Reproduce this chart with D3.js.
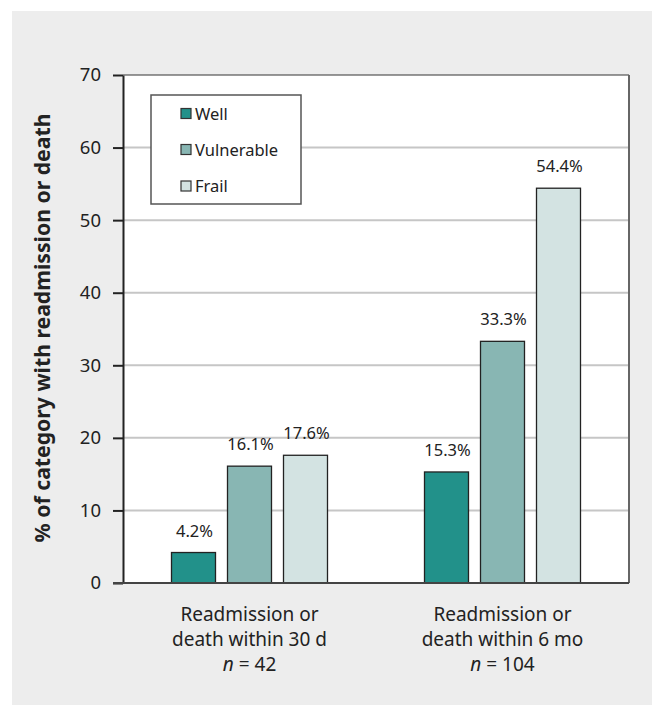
<!DOCTYPE html>
<html>
<head>
<meta charset="utf-8">
<script src="https://cdn.jsdelivr.net/npm/d3@7"></script>
<style>
  html, body { margin: 0; padding: 0; background: #ffffff; }
  svg { display: block; }
  text { font-family: "Source Sans Pro", "Noto Sans", sans-serif; fill: #222; }
</style>
</head>
<body>
<svg id="chart" width="652" height="705"></svg>
<script>
// Outcome groups (multi-line labels) and frailty categories
const groups = ["30d", "6mo"];
const groupLines = [
  ["Readmission or", "death within 30 d", "n = 42"],
  ["Readmission or", "death within 6 mo", "n = 104"]
];
const frailty = ["Well", "Vulnerable", "Frail"];
const colors = ["#22918a", "#88b6b3", "#d3e3e2"];

// Percent of each category with readmission or death
const values30d = [4.2, 16.1, 17.6];
const values6mo = [15.3, 33.3, 54.4];
const yTicks = [0, 10, 20, 30, 40, 50, 60, 70];

const series = [values30d, values6mo];
const FONT = "\"Source Sans Pro\", \"Noto Sans\", sans-serif";

const svg = d3.select("#chart");

// Panel background
svg.append("rect")
  .attr("x", 12).attr("y", 11)
  .attr("width", 652 - 12).attr("height", 705 - 11)
  .attr("fill", "#ededed");

const plot = { left: 123, right: 629, top: 75, bottom: 583 };

svg.append("rect")
  .attr("x", plot.left).attr("y", plot.top)
  .attr("width", plot.right - plot.left).attr("height", plot.bottom - plot.top)
  .attr("fill", "#ffffff");

const x0 = d3.scaleBand().domain(groups).range([plot.left, plot.right]);
const x1 = d3.scaleBand().domain(frailty).range([0, 156]).paddingInner(12 / 56);
const y = d3.scaleLinear().domain([0, 70]).range([plot.bottom, plot.top]);

// Horizontal gridlines
svg.append("g")
  .selectAll("line")
  .data(yTicks.filter(t => t > 0 && t < 70))
  .join("line")
  .attr("x1", plot.left).attr("x2", plot.right)
  .attr("y1", d => y(d)).attr("y2", d => y(d))
  .attr("stroke", "#c6c6c6")
  .attr("stroke-width", 2);

// Top and right frame
svg.append("line")
  .attr("x1", plot.left).attr("x2", plot.right)
  .attr("y1", plot.top).attr("y2", plot.top)
  .attr("stroke", "#333").attr("stroke-width", 1);
svg.append("line")
  .attr("x1", plot.right).attr("x2", plot.right)
  .attr("y1", plot.top).attr("y2", plot.bottom)
  .attr("stroke", "#666").attr("stroke-width", 2);

// Y axis
const yAxis = svg.append("g")
  .attr("transform", `translate(${plot.left},0)`)
  .call(d3.axisLeft(y).tickValues(yTicks).tickSize(10).tickPadding(12).tickSizeOuter(0));
yAxis.select(".domain").attr("stroke", "#222").attr("stroke-width", 2);
yAxis.selectAll(".tick line").attr("stroke", "#222").attr("stroke-width", 2);
yAxis.selectAll(".tick text")
  .attr("font-size", 18.5)
  .attr("fill", "#222")
  .style("font-family", FONT);

// Legend box over the gridlines
const legend = svg.append("g");
legend.append("rect")
  .attr("x", 151).attr("y", 95)
  .attr("width", 150).attr("height", 109)
  .attr("fill", "#ffffff")
  .attr("stroke", "#555").attr("stroke-width", 1.5);
const legendY = [113.5, 149.5, 186];
frailty.forEach((name, i) => {
  legend.append("rect")
    .attr("x", 181).attr("y", legendY[i] - 5)
    .attr("width", 10).attr("height", 10)
    .attr("fill", colors[i])
    .attr("stroke", "#333").attr("stroke-width", 1.2);
  legend.append("text")
    .attr("x", 195).attr("y", legendY[i] + 6)
    .attr("font-size", 16.5)
    .text(name);
});

// Bars and value labels
groups.forEach((g, gi) => {
  const gx = x0(g) + (x0.bandwidth() - 156) / 2;
  const gEl = svg.append("g").attr("transform", `translate(${gx},0)`);
  frailty.forEach((f, fi) => {
    const v = series[gi][fi];
    gEl.append("rect")
      .attr("x", x1(f)).attr("y", y(v))
      .attr("width", x1.bandwidth()).attr("height", y(0) - y(v))
      .attr("fill", colors[fi])
      .attr("stroke", "#222").attr("stroke-width", 1.3);
    gEl.append("text")
      .attr("x", x1(f) + x1.bandwidth() / 2 + 1)
      .attr("y", y(v) - 16)
      .attr("text-anchor", "middle")
      .attr("font-size", 16.5)
      .text(v.toFixed(1) + "%");
  });
});

// Baseline
svg.append("line")
  .attr("x1", plot.left - 10).attr("x2", plot.right)
  .attr("y1", plot.bottom).attr("y2", plot.bottom)
  .attr("stroke", "#444").attr("stroke-width", 2);

// Group labels beneath the axis
groups.forEach((g, gi) => {
  const cx = x0(g) + x0.bandwidth() / 2;
  groupLines[gi].forEach((line, li) => {
    const t = svg.append("text")
      .attr("x", cx).attr("y", 621 + li * 25)
      .attr("text-anchor", "middle")
      .attr("font-size", 19);
    if (line.startsWith("n =")) {
      t.append("tspan").attr("font-style", "italic").text("n");
      t.append("tspan").text(line.slice(1));
    } else {
      t.text(line);
    }
  });
});

// Y axis title, sized to span the plot's labelled height
const title = svg.append("text")
  .attr("transform", `translate(50,${(plot.top + plot.bottom) / 2 - 1}) rotate(-90)`)
  .attr("text-anchor", "middle")
  .attr("font-size", 19)
  .attr("font-weight", "bold")
  .text("% of category with readmission or death");
const len = title.node().getComputedTextLength();
title.attr("font-size", 19 * 429 / len);
</script>
</body>
</html>
